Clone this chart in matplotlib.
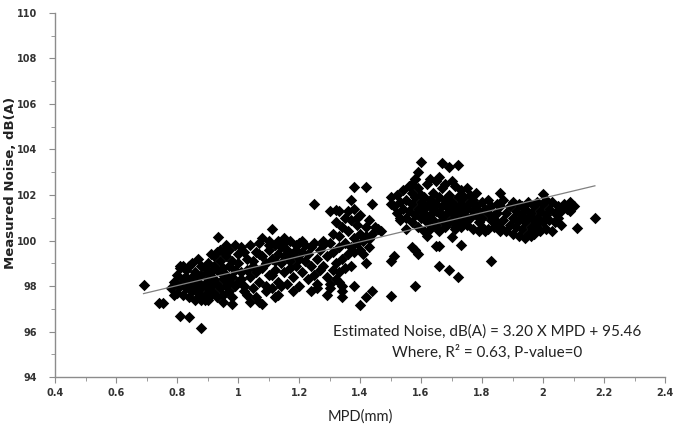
import matplotlib
matplotlib.use("Agg")
import matplotlib.pyplot as plt
from matplotlib.ticker import MultipleLocator

# points, grouped by cluster (MPD mm, noise dB(A))
cluster_a = [(0.78, 97.9), (0.79, 98.2), (0.80, 97.7), (0.80, 98.5), (0.81, 98.0), (0.82, 97.6),
             (0.82, 98.3), (0.83, 98.7), (0.83, 97.9), (0.84, 98.1), (0.84, 97.5), (0.84, 98.9),
             (0.85, 98.4), (0.85, 97.8), (0.86, 98.0), (0.86, 98.6), (0.86, 97.4), (0.87, 98.2),
             (0.87, 97.7), (0.87, 99.2), (0.88, 98.5), (0.88, 97.9), (0.88, 97.4), (0.89, 98.1),
             (0.89, 98.8), (0.89, 97.6), (0.90, 98.3), (0.90, 97.9), (0.90, 99.0), (0.90, 97.4),
             (0.91, 98.6), (0.91, 98.0), (0.91, 99.4), (0.92, 97.7), (0.92, 98.3), (0.92, 98.9),
             (0.93, 98.1), (0.93, 99.5), (0.93, 97.5), (0.94, 98.6), (0.94, 97.9), (0.94, 99.1),
             (0.95, 98.3), (0.95, 98.8), (0.95, 97.6), (0.96, 99.3), (0.96, 98.0), (0.96, 98.5),
             (0.97, 98.9), (0.97, 97.8), (0.97, 99.6), (0.98, 98.4), (0.98, 99.1), (0.98, 97.5),
             (0.99, 98.7), (0.99, 99.8), (1.00, 98.2), (1.00, 99.4), (0.85, 99.0), (0.82, 98.9),
             (0.81, 98.8), (0.83, 98.4), (0.86, 98.3), (0.88, 98.9), (0.87, 98.0), (0.89, 97.4),
             (0.91, 97.6), (0.92, 99.3), (0.84, 97.9), (0.80, 98.1), (0.79, 97.6), (0.93, 98.7),
             (0.95, 99.5), (0.97, 98.2), (0.99, 98.0), (1.01, 98.6), (1.01, 99.7), (0.94, 99.6),
             (0.96, 99.8), (0.90, 98.6)]

cluster_b = [(1.00, 99.0), (1.01, 98.3), (1.02, 99.5), (1.02, 98.0), (1.03, 99.2), (1.03, 98.7),
             (1.04, 99.8), (1.04, 98.4), (1.05, 99.1), (1.05, 97.9), (1.06, 99.5), (1.06, 98.6),
             (1.07, 99.9), (1.07, 98.2), (1.08, 99.3), (1.08, 98.8), (1.08, 100.1), (1.09, 99.0),
             (1.09, 98.0), (1.10, 99.6), (1.10, 98.5), (1.10, 100.0), (1.11, 99.2), (1.11, 97.9),
             (1.12, 99.8), (1.12, 98.7), (1.13, 99.4), (1.13, 98.2), (1.13, 100.0), (1.14, 99.0),
             (1.14, 99.7), (1.15, 98.6), (1.15, 99.3), (1.15, 99.9), (1.16, 98.1), (1.16, 99.6),
             (1.17, 99.1), (1.17, 98.8), (1.17, 100.0), (1.18, 99.4), (1.18, 98.4), (1.19, 99.8),
             (1.19, 98.9), (1.20, 99.2), (1.20, 98.0), (1.20, 99.9), (1.21, 99.5), (1.21, 98.6),
             (1.22, 99.1), (1.22, 99.8), (1.23, 98.3), (1.23, 99.4), (1.24, 98.9), (1.24, 99.7),
             (1.25, 98.5), (1.25, 99.9), (1.26, 99.2), (1.26, 98.1), (1.27, 99.6), (1.27, 98.7),
             (1.06, 97.5), (1.03, 97.6), (1.09, 97.8), (1.18, 97.8), (1.14, 98.0), (1.11, 98.5),
             (1.19, 99.6), (1.16, 99.3), (1.12, 99.1), (1.21, 100.0), (1.05, 98.9), (1.07, 99.4),
             (1.02, 97.8), (1.15, 100.1), (1.10, 99.8)]

cluster_c = [(1.28, 98.9), (1.28, 99.8), (1.29, 98.4), (1.29, 99.3), (1.30, 98.1), (1.30, 99.9),
             (1.31, 98.7), (1.31, 99.5), (1.31, 100.3), (1.32, 98.3), (1.32, 99.0), (1.32, 100.8),
             (1.33, 99.7), (1.33, 98.6), (1.33, 100.2), (1.34, 99.2), (1.34, 98.0), (1.34, 100.6),
             (1.35, 99.9), (1.35, 98.8), (1.35, 101.0), (1.36, 99.4), (1.36, 100.4), (1.37, 99.7),
             (1.37, 100.9), (1.37, 98.9), (1.38, 100.1), (1.38, 101.4), (1.38, 99.5), (1.39, 100.7),
             (1.39, 99.9), (1.40, 100.3), (1.40, 99.6), (1.40, 101.1), (1.41, 100.0), (1.41, 99.4),
             (1.42, 100.6), (1.42, 100.2), (1.43, 99.7), (1.43, 100.9), (1.44, 100.3), (1.45, 100.6),
             (1.46, 100.5), (1.47, 100.4), (1.36, 101.3), (1.39, 101.0), (1.30, 97.9), (1.29, 97.6),
             (1.33, 98.2), (1.26, 97.9), (1.28, 100.0)]

cluster_d = [(1.50, 101.9), (1.51, 101.5), (1.52, 102.0), (1.52, 101.2), (1.53, 101.7), (1.53, 100.9),
             (1.54, 101.4), (1.54, 102.2), (1.55, 101.0), (1.55, 101.8), (1.56, 101.3), (1.56, 102.4),
             (1.57, 100.8), (1.57, 101.6), (1.57, 102.1), (1.58, 101.1), (1.58, 101.9), (1.59, 100.6),
             (1.59, 101.4), (1.59, 102.3), (1.60, 101.0), (1.60, 101.7), (1.60, 102.0), (1.61, 100.4),
             (1.61, 101.2), (1.61, 101.9), (1.62, 100.8), (1.62, 101.5), (1.62, 102.5), (1.63, 101.1),
             (1.63, 101.8), (1.63, 100.5), (1.64, 101.4), (1.64, 102.1), (1.64, 100.9), (1.65, 101.6),
             (1.65, 100.7), (1.65, 102.6), (1.66, 101.2), (1.66, 101.9), (1.66, 100.4), (1.67, 101.5),
             (1.67, 100.9), (1.67, 102.3), (1.68, 101.1), (1.68, 101.8), (1.68, 100.6), (1.69, 101.4),
             (1.69, 102.0), (1.69, 100.8), (1.70, 101.2), (1.70, 101.7), (1.70, 102.6), (1.71, 100.5),
             (1.71, 101.0), (1.71, 101.5), (1.72, 101.9), (1.72, 100.8), (1.72, 101.3), (1.73, 102.2),
             (1.73, 100.6), (1.73, 101.6), (1.74, 101.1), (1.74, 101.9), (1.74, 100.9), (1.75, 101.4),
             (1.75, 102.3), (1.75, 100.7), (1.76, 101.7), (1.76, 101.0), (1.76, 102.0), (1.77, 101.3),
             (1.77, 100.5), (1.77, 101.8), (1.78, 101.1), (1.78, 101.5), (1.78, 102.1), (1.79, 100.8),
             (1.79, 101.3), (1.80, 101.7), (1.80, 100.6), (1.80, 101.0), (1.81, 101.4), (1.81, 100.4),
             (1.82, 101.2), (1.82, 101.8), (1.83, 100.9), (1.83, 101.5), (1.84, 100.6), (1.84, 101.1),
             (1.85, 101.6), (1.85, 100.8), (1.58, 102.7), (1.57, 102.5), (1.66, 102.8), (1.68, 102.5),
             (1.71, 102.4), (1.62, 100.9), (1.65, 101.3), (1.69, 101.6), (1.72, 101.0), (1.75, 101.5),
             (1.64, 101.7), (1.67, 101.1), (1.70, 100.9), (1.73, 101.4), (1.60, 101.4), (1.55, 100.5),
             (1.53, 101.0), (1.79, 100.4), (1.82, 100.5), (1.86, 100.4), (1.71, 100.6), (1.63, 102.7)]

cluster_e = [(1.85, 101.2), (1.86, 100.6), (1.86, 101.5), (1.87, 100.9), (1.87, 101.8), (1.88, 100.4),
             (1.88, 101.2), (1.89, 100.7), (1.89, 101.5), (1.90, 101.0), (1.90, 100.3), (1.90, 101.7),
             (1.91, 100.6), (1.91, 101.3), (1.92, 100.9), (1.92, 100.2), (1.92, 101.6), (1.93, 101.1),
             (1.93, 100.5), (1.94, 100.8), (1.94, 101.4), (1.95, 100.3), (1.95, 101.0), (1.95, 101.7),
             (1.96, 100.6), (1.96, 101.2), (1.97, 100.9), (1.97, 100.3), (1.97, 101.5), (1.98, 101.0),
             (1.98, 100.6), (1.99, 101.3), (1.99, 100.4), (2.00, 100.8), (2.00, 101.6), (2.01, 101.1),
             (2.01, 100.5), (2.02, 101.4), (2.02, 100.9), (2.03, 100.4), (2.03, 101.7), (2.04, 101.2),
             (2.04, 100.8), (2.05, 101.5), (2.05, 101.0), (2.06, 101.3), (2.06, 100.7), (2.07, 101.6),
             (2.08, 101.4), (2.09, 101.7), (2.09, 101.3), (2.10, 101.5), (1.94, 100.1), (1.96, 100.2),
             (1.91, 100.9), (1.93, 101.5), (1.98, 101.7), (2.01, 101.8), (1.99, 100.9)]

outliers = [(0.69, 98.05), (0.74, 97.25), (0.755, 97.25), (0.81, 96.7), (0.84, 96.65), (0.88, 96.15),
            (0.81, 98.9), (0.935, 100.15), (1.11, 100.5), (1.25, 101.6), (1.30, 101.3), (1.32, 101.35),
            (1.33, 101.3), (1.38, 102.35), (1.42, 102.35), (1.37, 101.8), (1.44, 101.6), (1.40, 97.15),
            (1.38, 98.0), (1.42, 97.5), (1.44, 97.8), (1.50, 97.55), (1.58, 98.0), (1.66, 98.9),
            (1.69, 98.7), (1.72, 98.4), (1.83, 99.1), (1.73, 99.8), (1.50, 99.1), (1.51, 99.3),
            (1.57, 99.7), (1.59, 99.4), (1.58, 99.6), (1.65, 99.75), (1.66, 99.75), (1.62, 100.2),
            (1.70, 100.15), (1.42, 99.0), (1.43, 100.05), (2.17, 101.0), (2.11, 100.55), (1.86, 102.1),
            (2.00, 102.05), (1.60, 103.45), (1.67, 103.4), (1.69, 103.25), (1.72, 103.3), (1.59, 103.0),
            (1.58, 102.7), (1.57, 102.5), (1.50, 101.6), (1.34, 97.5), (1.34, 97.8), (1.24, 97.8),
            (1.07, 97.3), (1.08, 97.2), (1.04, 97.3), (0.98, 97.2), (0.95, 97.3), (1.12, 97.5),
            (1.13, 97.6)]

# fitted line as printed on the chart
slope, intercept = 3.20, 95.46

points = cluster_a + cluster_b + cluster_c + cluster_d + cluster_e + outliers
mpd = [p[0] for p in points]
noise = [p[1] for p in points]

fig = plt.figure(figsize=(6.8, 4.3), dpi=100)
ax = fig.add_axes([0.081, 0.123, 0.897, 0.847])

ax.scatter(mpd, noise, marker='D', s=34, color='black', linewidths=0, zorder=2)

x_fit = [min(mpd), max(mpd)]
ax.plot(x_fit, [slope * v + intercept for v in x_fit], color='#808080', lw=0.9, zorder=3)

ax.set_xlim(0.4, 2.4)
ax.set_ylim(94, 110)
ax.xaxis.set_major_locator(MultipleLocator(0.2))
ax.xaxis.set_minor_locator(MultipleLocator(0.1))
ax.yaxis.set_major_locator(MultipleLocator(2))
ax.yaxis.set_minor_locator(MultipleLocator(1))
ax.set_xticks([0.4, 0.6, 0.8, 1.0, 1.2, 1.4, 1.6, 1.8, 2.0, 2.2, 2.4])
ax.set_xticklabels(['0.4', '0.6', '0.8', '1', '1.2', '1.4', '1.6', '1.8', '2', '2.2', '2.4'])

for s in ['top', 'right']:
    ax.spines[s].set_visible(False)
for s in ['left', 'bottom']:
    ax.spines[s].set_color('#8c8c8c')
    ax.spines[s].set_linewidth(1.0)

ax.tick_params(which='both', direction='out', color='#8c8c8c', labelsize=7, pad=4)
ax.tick_params(axis='y', which='major', pad=9)
ax.tick_params(which='major', length=4)
ax.tick_params(which='minor', length=3)
for lbl in ax.get_xticklabels() + ax.get_yticklabels():
    lbl.set_fontweight('bold')
    lbl.set_color('#333333')

ax.set_xlabel('MPD(mm)', fontsize=10.5, family='Lato', color='#222222', labelpad=8)
ax.set_ylabel('Measured Noise, dB(A)', fontsize=9.5, fontweight='bold', color='#222222')
ax.yaxis.set_label_coords(-0.062, 0.532)

ax.text(1.815, 96.0, 'Estimated Noise, dB(A) = 3.20 X MPD + 95.46',
        ha='center', va='center', fontsize=11, family='Lato', color='#222222')
ax.text(1.815, 95.07, 'Where, R² = 0.63, P-value=0',
        ha='center', va='center', fontsize=11, family='Lato', color='#222222')

fig.savefig('out.png', dpi=100)
